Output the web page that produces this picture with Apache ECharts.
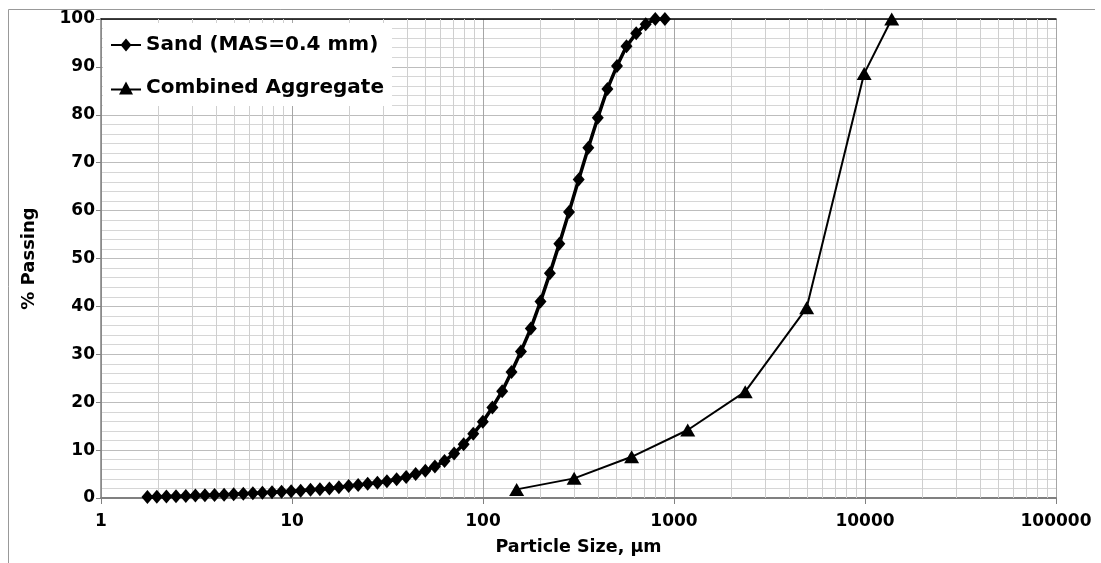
<!DOCTYPE html>
<html><head><meta charset="utf-8">
<script src="https://cdn.jsdelivr.net/npm/echarts@6/dist/echarts.min.js"></script>
<style>html,body{margin:0;padding:0;background:#fff}#c{width:1101px;height:563px}</style>
</head><body><div id="c"></div>
<script>
const seriesNames = ['Sand (MAS=0.4 mm)', 'Combined Aggregate'];
const sandSize = [1.75,1.96,2.20,2.47,2.78,3.12,3.5,3.93,4.41,4.95,5.56,6.24,7,7.86,8.82,9.90,11.1,12.5,14,15.7,17.6,19.8,22.2,24.9,28,31.4,35.3,39.6,44.4,49.9,56,62.9,70.6,79.2,88.9,99.8,112,126,141,158,178,200,224,251,282,317,356,399,448,503,564,634,711,798,896];
const sandPassing = [0.2,0.25,0.3,0.35,0.4,0.5,0.55,0.65,0.7,0.8,0.9,1.0,1.1,1.2,1.3,1.4,1.5,1.7,1.85,2.0,2.25,2.5,2.7,2.95,3.2,3.5,3.9,4.4,5.0,5.7,6.6,7.7,9.3,11.2,13.4,15.9,18.9,22.3,26.3,30.6,35.4,41.0,46.9,53.1,59.7,66.5,73.1,79.4,85.4,90.2,94.3,97.0,98.9,100,100];
const aggSize = [150,300,600,1180,2360,4950,9900,13800];
const aggPassing = [1.8,4.1,8.6,14.2,22.2,39.7,88.6,100];
const xTickLabels = ['1','10','100','1000','10000','100000'];

const minorX = [];
for (let d = 1; d <= 10000; d *= 10) for (let m = 2; m <= 9; m++) minorX.push(m * d);

const FONT = 'DejaVu Sans';
const iconSand = 'path://M0,5.5L30,5.5L30,7.5L0,7.5Z M15,0L20.5,6.5L15,13L9.5,6.5Z';
const iconAgg = 'path://M0,7L30,7L30,9L0,9Z M15,0L22,13L8,13Z';
const chart = echarts.init(document.getElementById('c'), null, {renderer: 'canvas'});
chart.setOption({
  animation: false,
  backgroundColor: '#fff',
  grid: {left: 101, right: 45, top: 19, bottom: 65},
  graphic: [{type: 'polyline', shape: {points: [[8.5, 563], [8.5, 9.5], [1095, 9.5]]}, style: {stroke: '#999', fill: null, lineWidth: 1}, silent: true}],
  legend: {
    data: [{name: seriesNames[0], icon: iconSand}, {name: seriesNames[1], icon: iconAgg}],
    orient: 'vertical', left: 103, top: 23,
    padding: [12, 8, 8, 8], itemGap: 23, itemWidth: 30, itemHeight: 13,
    backgroundColor: '#fff',
    textStyle: {fontFamily: FONT, fontWeight: 'bold', fontSize: 20, color: '#000'}
  },
  xAxis: [{
    type: 'log', logBase: 10, min: 1, max: 100000, splitNumber: 5,
    name: 'Particle Size, µm', nameLocation: 'middle', nameGap: 40,
    nameTextStyle: {fontFamily: FONT, fontWeight: 'bold', fontSize: 17.5, color: '#000'},
    axisLine: {lineStyle: {color: '#808080', width: 2}},
    axisTick: {show: true, length: 6, lineStyle: {color: '#808080'}},
    axisLabel: {fontFamily: FONT, fontWeight: 'bold', fontSize: 17, color: '#000', margin: 15,
      formatter: v => xTickLabels[Math.round(Math.log10(v))]},
    splitLine: {show: true, lineStyle: {color: '#a6a6a6', width: 1}}
  }, {
    type: 'log', logBase: 10, min: 1, max: 100000, position: 'top',
    axisLine: {show: true, lineStyle: {color: '#000', width: 1.5}},
    axisTick: {show: false}, axisLabel: {show: false}, splitLine: {show: false}
  }],
  yAxis: {
    type: 'value', min: 0, max: 100, interval: 10,
    name: '% Passing', nameLocation: 'middle', nameGap: 63, nameRotate: 90,
    nameTextStyle: {fontFamily: FONT, fontWeight: 'bold', fontSize: 18, color: '#000'},
    axisLine: {show: true, lineStyle: {color: '#808080', width: 1.5}},
    axisTick: {show: true, length: 5, lineStyle: {color: '#808080'}},
    minorTick: {show: false, splitNumber: 5},
    minorSplitLine: {show: true, lineStyle: {color: '#d6d6d6', width: 1}},
    axisLabel: {fontFamily: FONT, fontWeight: 'bold', fontSize: 17, color: '#000', margin: 6},
    splitLine: {show: true, lineStyle: {color: '#bdbdbd', width: 1}}
  },
  series: [{
    name: '_grid', type: 'line', z: 1, data: [[1, 0]], showSymbol: false, symbol: 'none',
    lineStyle: {width: 0}, silent: true,
    markLine: {z: 1, silent: true, symbol: ['none', 'none'], label: {show: false},
      lineStyle: {color: '#cfcfcf', width: 1, type: 'solid'},
      data: minorX.map(v => ({xAxis: v}))}
  }, {
    name: seriesNames[0], type: 'line', z: 3,
    data: sandSize.map((s, i) => [s, sandPassing[i]]),
    symbol: 'diamond', symbolSize: [12, 14], showAllSymbol: true,
    lineStyle: {color: '#000', width: 3.5}, itemStyle: {color: '#000'}
  }, {
    name: seriesNames[1], type: 'line', z: 3,
    data: aggSize.map((s, i) => [s, aggPassing[i]]),
    symbol: 'triangle', symbolSize: [15, 13], showAllSymbol: true,
    lineStyle: {color: '#000', width: 2}, itemStyle: {color: '#000'}
  }]
});
</script></body></html>
